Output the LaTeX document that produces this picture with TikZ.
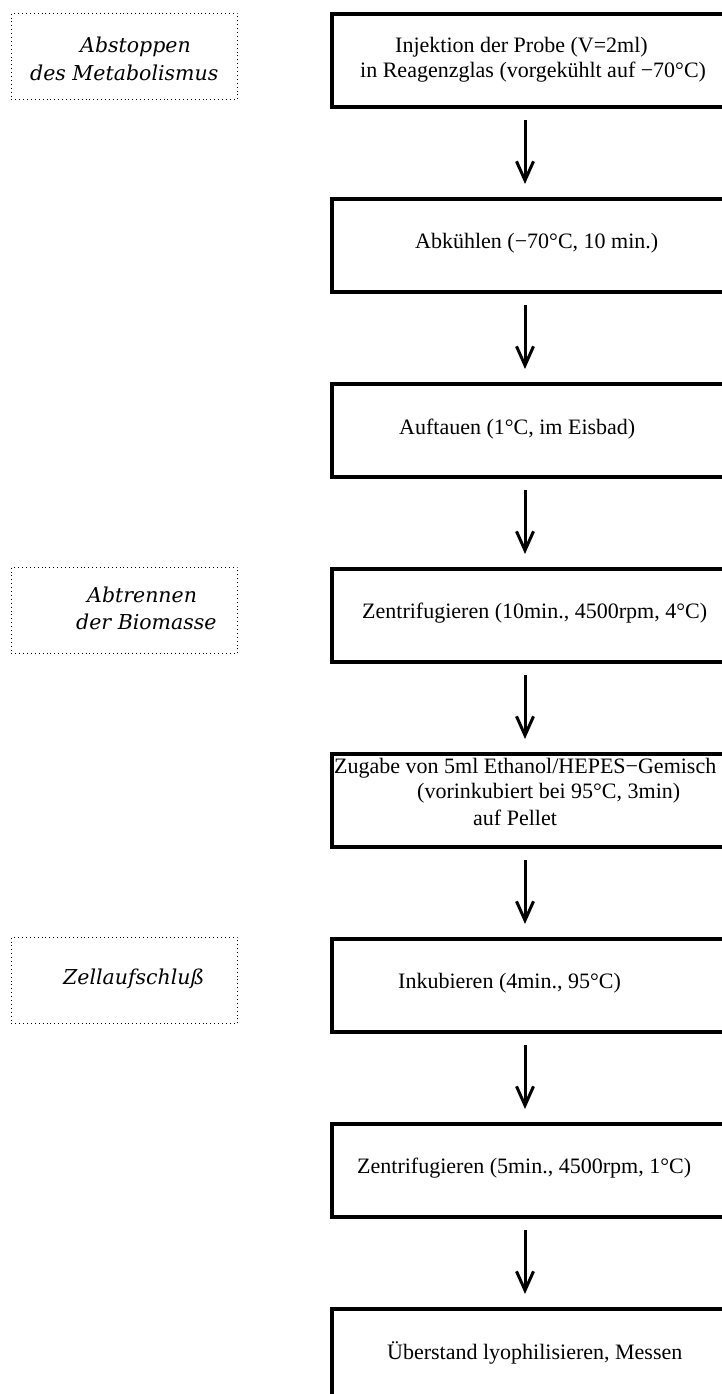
\documentclass[tikz,border=0pt]{standalone}
\usepackage{fontspec}
\setmainfont{Liberation Serif}
\newfontfamily\labfont{DejaVu Serif}
\usetikzlibrary{arrows.meta,calc}
\begin{document}
\begin{tikzpicture}[x=1pt,y=-1pt,
  stepbox/.style={draw, line width=3.8pt, minimum width=420pt, minimum height=93pt, anchor=north west, inner sep=0pt},
  labbox/.style={draw, line width=0.9pt, dash pattern=on 0.9pt off 3pt, minimum width=226pt, minimum height=86pt, anchor=north west, inner sep=0pt},
  txt/.style={font=\fontsize{22}{26}\selectfont, anchor=west, inner sep=0pt},
  ltxt/.style={font=\labfont\itshape\fontsize{20.5}{24}\selectfont, anchor=west, inner sep=0pt},
  arr/.style={-{Straight Barb[length=19pt,width=17pt,line width=3pt]}, line width=3pt}
]
\useasboundingbox (0,0) rectangle (722,1394);
\fill[white] (0,0) rectangle (722,1394);

% step boxes
\node[stepbox] (b1) at (330,12) {};
\node[stepbox] (b2) at (330,197) {};
\node[stepbox] (b3) at (330,382) {};
\node[stepbox] (b4) at (330,567) {};
\node[stepbox] (b5) at (330,752) {};
\node[stepbox] (b6) at (330,937) {};
\node[stepbox] (b7) at (330,1122) {};
\node[stepbox] (b8) at (330,1307) {};

% step texts
\node[txt] (t1a) at (395,47) {Injektion der Probe (V=2ml)};
\node[txt] (t1b) at (360,72) {in Reagenzglas (vorgekühlt auf −70°C)};
\node[txt] (t2) at (415,243) {Abkühlen (−70°C, 10 min.)};
\node[txt] (t3) at (399,429) {Auftauen (1°C, im Eisbad)};
\node[txt] (t4) at (362,613) {Zentrifugieren (10min., 4500rpm, 4°C)};
\node[txt] (t5a) at (334,768) {Zugabe von 5ml Ethanol/HEPES−Gemisch};
\node[txt] (t5b) at (417,793) {(vorinkubiert bei 95°C, 3min)};
\node[txt] (t5c) at (473,818) {auf Pellet};
\node[txt] (t6) at (398,983) {Inkubieren (4min., 95°C)};
\node[txt] (t7) at (357,1168) {Zentrifugieren (5min., 4500rpm, 1°C)};
\node[txt] (t8) at (387,1353) {Überstand lyophilisieren, Messen};

% arrows
\foreach \a/\b in {b1/b2,b2/b3,b3/b4,b4/b5,b5/b6,b6/b7,b7/b8}{
  \draw[arr] ($(\a.south west)+(195,11)$) -- ($(\b.north west)+(195,-13)$);
}

% dotted label boxes
\node[labbox] (l1) at (11,13) {};
\node[labbox] (l2) at (11,567) {};
\node[labbox] (l3) at (11,937) {};
\node[ltxt] (l1a) at (80,47) {Abstoppen};
\node[ltxt] (l1b) at (30,73) {des Metabolismus};
\node[ltxt] (l2a) at (87,595) {Abtrennen};
\node[ltxt] (l2b) at (76,622) {der Biomasse};
\node[ltxt] (l3a) at (63,979) {Zellaufschluß};
\end{tikzpicture}
\end{document}
